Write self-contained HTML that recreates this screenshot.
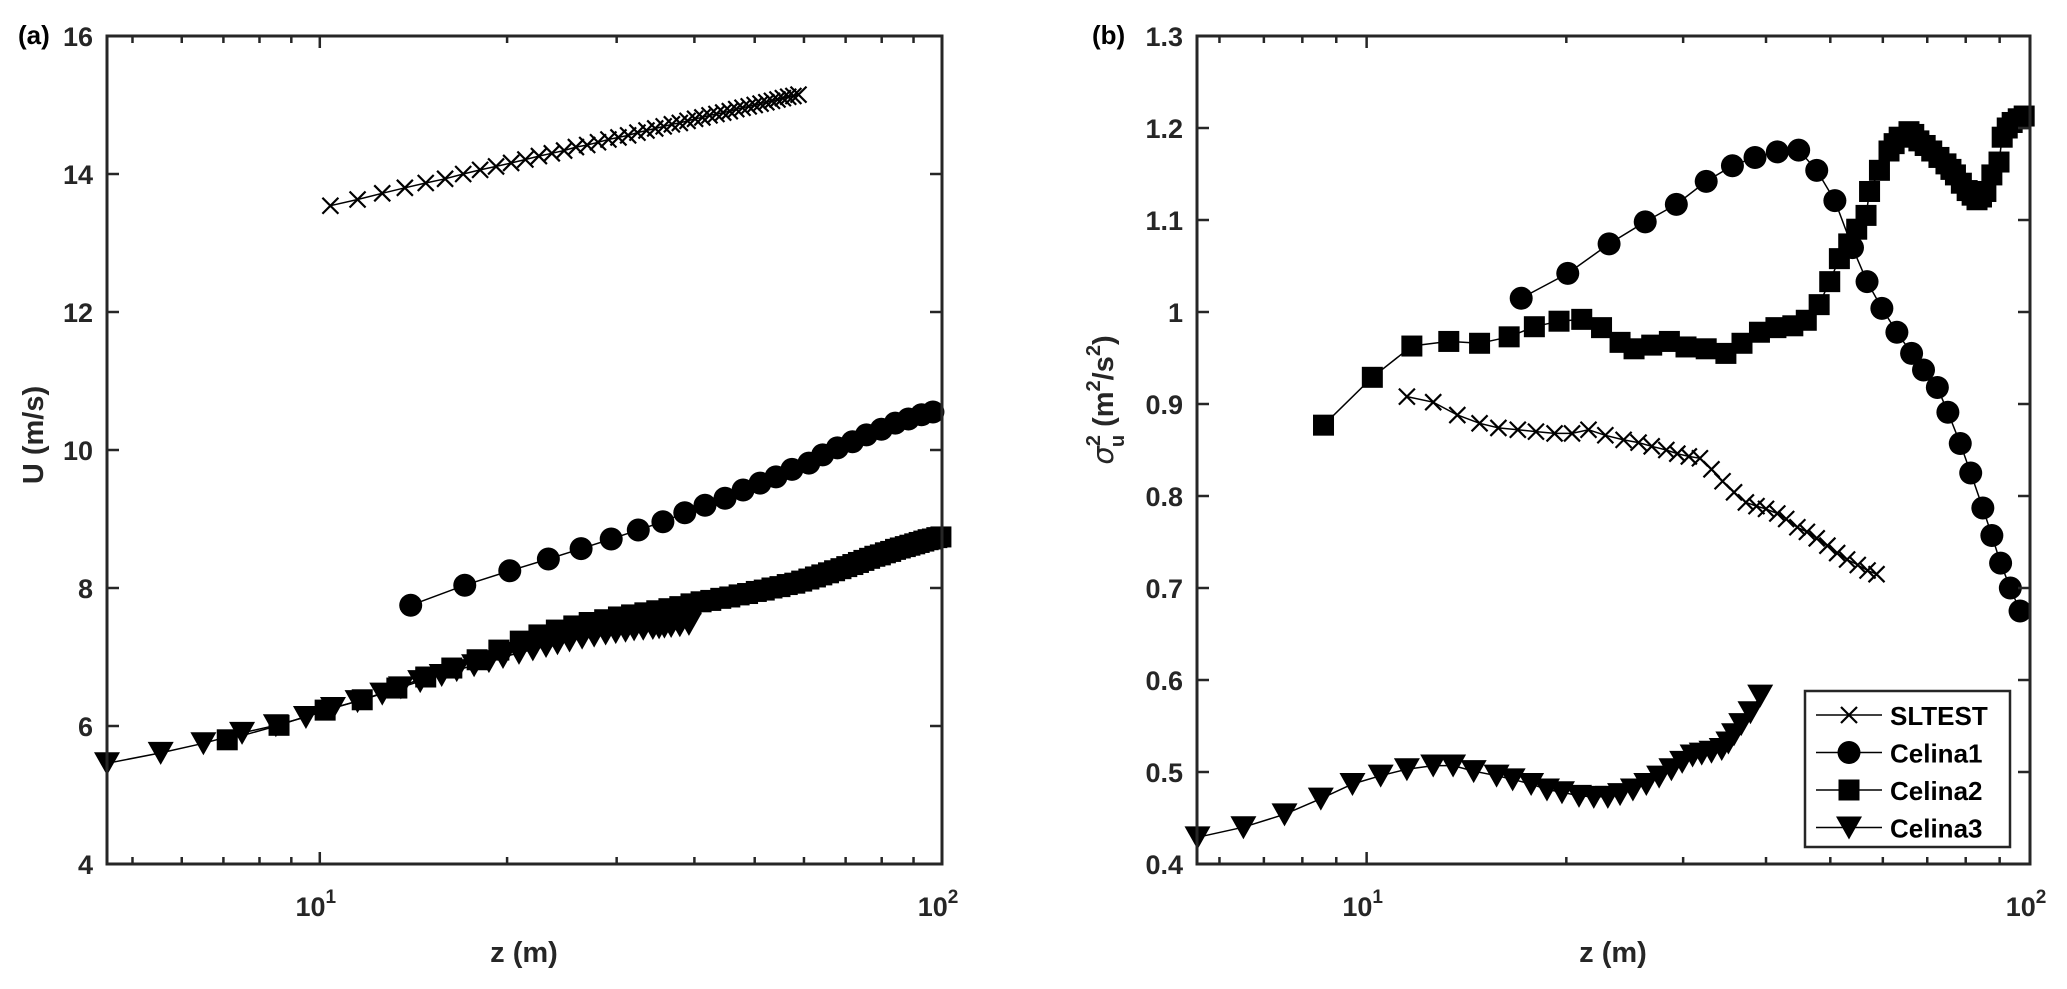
<!DOCTYPE html>
<html><head><meta charset="utf-8">
<style>
html,body{margin:0;padding:0;background:#fff;}
svg{display:block;font-family:"Liberation Sans",Arial,sans-serif;font-weight:bold;}
</style></head>
<body>
<svg id="fig" width="2067" height="989" viewBox="0 0 2067 989" xmlns="http://www.w3.org/2000/svg">
<rect width="2067" height="989" fill="#fff"/>
<g id="pa"></g>
<g id="pb"></g>
</svg>
<script>
// ---------- Panel (a) data ----------
const aSltZ = [10.4,11.5,12.6,13.7,14.8,15.9,17.0,18.1,19.2,20.3,21.4,22.5,23.6,24.7,25.8,26.9,28.0,29.1,30.2,31.3,32.4,33.5,34.6,35.7,36.8,37.9,39.0,40.1,41.2,42.3,43.4,44.5,45.6,46.7,47.8,48.9,50.0,51.1,52.2,53.3,54.4,55.5,56.6,57.7,58.8];
const aSltU = [13.54,13.63,13.72,13.80,13.87,13.93,14.00,14.06,14.11,14.16,14.21,14.26,14.30,14.34,14.39,14.42,14.46,14.50,14.53,14.56,14.60,14.63,14.66,14.69,14.72,14.74,14.77,14.80,14.82,14.85,14.87,14.89,14.91,14.94,14.96,14.98,15.00,15.02,15.04,15.06,15.08,15.10,15.12,15.13,15.15];
const aC1Z = [14.0,17.1,20.2,23.3,26.3,29.4,32.5,35.6,38.6,41.6,44.8,47.9,51.0,54.1,57.4,61.1,64.3,67.9,71.8,75.6,79.9,84.1,88.3,92.7,96.7];
const aC1U = [7.75,8.04,8.25,8.42,8.57,8.71,8.84,8.96,9.09,9.20,9.30,9.42,9.52,9.61,9.72,9.81,9.93,10.03,10.12,10.22,10.30,10.39,10.45,10.51,10.55];
const aC2Z = [7.1,8.6,10.2,11.7,13.3,14.8,16.3,17.9,19.4,21.0,22.5,24.0,25.6,27.1,28.7,30.2,31.7,33.3,34.8,36.4,37.9,39.5,41.0,42.5,44.1,45.6,47.2,48.7,50.3,51.8,53.3,54.9,56.4,58.0,59.5,61.1,62.6,64.1,65.7,67.2,68.8,70.3,71.9,73.4,74.9,76.5,78.0,79.6,81.1,82.7,84.2,85.7,87.3,88.8,90.4,91.9,93.5,95.0,96.5,98.1,99.6];
const aC2U = [5.80,6.01,6.23,6.38,6.55,6.71,6.84,6.96,7.10,7.23,7.32,7.39,7.45,7.50,7.54,7.58,7.61,7.64,7.67,7.70,7.73,7.77,7.80,7.82,7.85,7.87,7.90,7.92,7.95,7.97,8.00,8.02,8.05,8.07,8.10,8.13,8.16,8.19,8.22,8.25,8.28,8.31,8.34,8.37,8.40,8.43,8.46,8.48,8.51,8.53,8.56,8.58,8.60,8.62,8.64,8.66,8.68,8.70,8.71,8.73,8.74];
const aC3Z = [4.55,5.55,6.5,7.5,8.5,9.5,10.5,11.5,12.6,13.5,14.5,15.7,16.6,17.7,18.7,19.7,20.9,22.0,23.1,24.1,25.2,26.4,27.6,28.8,29.9,31.0,32.0,33.1,34.3,35.1,35.8,36.7,37.9,39.2];
const aC3U = [5.46,5.61,5.75,5.90,6.01,6.13,6.26,6.36,6.47,6.56,6.65,6.74,6.81,6.88,6.94,7.00,7.06,7.11,7.16,7.20,7.24,7.28,7.31,7.34,7.36,7.38,7.40,7.41,7.42,7.43,7.44,7.45,7.46,7.48];
const aYTicks = [4,6,8,10,12,14,16];
// ---------- Panel (b) data ----------
const bSltZ = [11.5,12.6,13.7,14.8,15.8,16.9,18.0,19.2,20.4,21.6,22.9,24.4,25.7,26.9,28.3,29.4,30.6,31.8,33.1,34.4,35.8,37.3,38.7,40.0,41.6,42.9,44.6,46.1,47.7,49.5,51.2,53.0,55.0,56.9,58.7];
const bSltV = [0.908,0.902,0.888,0.879,0.874,0.872,0.870,0.868,0.868,0.872,0.866,0.861,0.858,0.854,0.850,0.846,0.843,0.841,0.829,0.816,0.804,0.793,0.789,0.786,0.781,0.775,0.766,0.761,0.754,0.746,0.738,0.731,0.725,0.719,0.715];
const bC1Z = [17.1,20.1,23.2,26.3,29.3,32.5,35.6,38.5,41.6,44.8,47.7,50.8,54.0,56.8,59.8,63.0,66.3,69.1,72.5,75.2,78.5,81.4,84.9,87.6,90.3,93.4,96.6];
const bC1V = [1.015,1.042,1.074,1.098,1.117,1.142,1.159,1.168,1.174,1.176,1.154,1.121,1.070,1.033,1.004,0.978,0.955,0.937,0.918,0.891,0.857,0.825,0.787,0.757,0.727,0.700,0.675];
const bC2Z = [8.61,10.2,11.7,13.3,14.8,16.4,17.9,19.5,21.1,22.6,24.1,25.3,26.9,28.6,30.3,32.5,34.8,36.8,39.1,41.4,43.9,46.0,48.1,49.9,51.6,53.3,54.8,56.6,57.3,59.3,61.3,62.4,63.5,65.7,66.8,68.0,69.5,71.1,72.9,74.7,76.0,77.2,78.8,80.4,81.8,83.2,84.5,85.8,87.6,89.8,90.8,92.4,94.0,96.0,98.0];
const bC2V = [0.877,0.929,0.963,0.968,0.966,0.973,0.984,0.990,0.992,0.983,0.967,0.960,0.964,0.968,0.962,0.960,0.955,0.966,0.978,0.983,0.985,0.991,1.008,1.033,1.058,1.074,1.090,1.105,1.131,1.154,1.175,1.183,1.190,1.196,1.193,1.186,1.181,1.175,1.168,1.161,1.155,1.149,1.140,1.132,1.127,1.122,1.125,1.131,1.149,1.163,1.190,1.200,1.206,1.210,1.213];
const bC3Z = [5.56,6.52,7.52,8.53,9.52,10.5,11.5,12.6,13.5,14.5,15.7,16.6,17.7,18.7,19.7,20.9,22.0,23.1,24.1,25.2,26.4,27.6,28.8,29.9,31.0,32.0,33.1,34.3,35.1,35.8,36.7,37.9,39.2];
const bC3V = [0.429,0.440,0.454,0.471,0.487,0.496,0.503,0.507,0.507,0.501,0.496,0.492,0.487,0.481,0.478,0.474,0.473,0.473,0.476,0.481,0.487,0.495,0.503,0.511,0.518,0.520,0.522,0.525,0.532,0.541,0.552,0.565,0.583];
const bYTicks = [0.4,0.5,0.6,0.7,0.8,0.9,1.0,1.1,1.2,1.3];
const bYTickLabels = ["0.4","0.5","0.6","0.7","0.8","0.9","1","1.1","1.2","1.3"];
const legendLabels = ["SLTEST","Celina1","Celina2","Celina3"];

const NS = "http://www.w3.org/2000/svg";
function mk(parent, tag, attrs, text){
  const e = document.createElementNS(NS, tag);
  for (const k in attrs) e.setAttribute(k, attrs[k]);
  if (text !== undefined) e.textContent = text;
  parent.appendChild(e);
  return e;
}
const AX = "#262626";

function makeAxes(g, L, R, T, B, xmin, xmax, ymin, ymax){
  const sx = z => L + (Math.log10(z) - Math.log10(xmin)) / (Math.log10(xmax) - Math.log10(xmin)) * (R - L);
  const sy = v => B - (v - ymin) / (ymax - ymin) * (B - T);
  return {sx, sy};
}

function drawFrame(g, A, L, R, T, B, xmin, xmax, yticks, ylabels){
  // minor/major x ticks
  for (let d = 1; d <= 100; d *= 10){
    for (let m = 1; m <= 9; m++){
      const z = m * d;
      if (z < xmin - 1e-9 || z > xmax + 1e-9) continue;
      const x = A.sx(z);
      const len = (m === 1) ? 12 : 7;
      const t1 = mk(g, "line", {x1:x, y1:B, x2:x, y2:B-len, stroke:AX, "stroke-width":2.5});
      
      
      const t2 = mk(g, "line", {x1:x, y1:T, x2:x, y2:T+len, stroke:AX, "stroke-width":2.5});
      
      
      if (m === 1){
        const lab = mk(g, "text", {x:x-4, y:B+52, "text-anchor":"middle", "font-size":27, fill:AX});
        
        
        mk(lab, "tspan", {}, "10");
        mk(lab, "tspan", {dy:-13, "font-size":19}, String(Math.round(Math.log10(z))));
      }
    }
  }
  yticks.forEach((v, i) => {
    const y = A.sy(v);
    const t1 = mk(g, "line", {x1:L, y1:y, x2:L+12, y2:y, stroke:AX, "stroke-width":2.5});
    
    
    const t2 = mk(g, "line", {x1:R, y1:y, x2:R-12, y2:y, stroke:AX, "stroke-width":2.5});
    
    
    const lab = mk(g, "text", {x:L-14, y:y+10, "text-anchor":"end", "font-size":27, fill:AX}, ylabels[i]);
    
    
  });
  const box = mk(g, "rect", {x:L, y:T, width:R-L, height:B-T, fill:"none", stroke:AX, "stroke-width":3});
  
  
}

function marker(g, type, x, y){
  let e;
  if (type === "x"){
    e = mk(g, "path", {d:`M${x-8},${y-8}L${x+8},${y+8}M${x-8},${y+8}L${x+8},${y-8}`, stroke:"#000", "stroke-width":2.2, fill:"none"});
  } else if (type === "o"){
    e = mk(g, "circle", {cx:x, cy:y, r:11.5, fill:"#000"});
  } else if (type === "s"){
    e = mk(g, "rect", {x:x-10.5, y:y-10.5, width:21, height:21, fill:"#000"});
  } else {
    e = mk(g, "path", {d:`M${x-13},${y-11}L${x+13},${y-11}L${x},${y+12}Z`, fill:"#000"});
  }
  return e;
}

function series(g, A, zs, vs, type, name){
  const sg = mk(g, "g", {});
  
  
  const pts = zs.map((z, i) => A.sx(z).toFixed(1) + "," + A.sy(vs[i]).toFixed(1)).join(" ");
  const pl = mk(sg, "polyline", {points:pts, fill:"none", stroke:"#000", "stroke-width":1.5});
  
  
  zs.forEach((z, i) => {
    const m = marker(sg, type, A.sx(z), A.sy(vs[i]));
    
    
  });
}

// ---- Panel (a)
const ga = document.getElementById("pa");
const aL = 107, aR = 942, aT = 36, aB = 864;
const A = makeAxes(ga, aL, aR, aT, aB, 4.55, 100, 4, 16);
series(ga, A, aSltZ, aSltU, "x", "a-sltest-series");
series(ga, A, aC1Z, aC1U, "o", "a-celina1-series");
series(ga, A, aC2Z, aC2U, "s", "a-celina2-series");
series(ga, A, aC3Z, aC3U, "v", "a-celina3-series");
drawFrame(ga, A, aL, aR, aT, aB, 4.55, 100, aYTicks, aYTicks.map(String));
let t = mk(ga, "text", {x:18, y:44, "font-size":26, fill:"#000"}, "(a)");


t = mk(ga, "text", {x:524, y:962, "text-anchor":"middle", "font-size":29, fill:AX}, "z (m)");


t = mk(ga, "text", {x:0, y:0, "text-anchor":"middle", "font-size":29, fill:AX, transform:"translate(43,435) rotate(-90)"}, "U (m/s)");



// ---- Panel (b)
const gb = document.getElementById("pb");
const bL = 1197, bR = 2030, bT = 36, bB = 864;
const B = makeAxes(gb, bL, bR, bT, bB, 5.55, 100, 0.4, 1.3);
series(gb, B, bSltZ, bSltV, "x", "b-sltest-series");
series(gb, B, bC1Z, bC1V, "o", "b-celina1-series");
series(gb, B, bC2Z, bC2V, "s", "b-celina2-series");
series(gb, B, bC3Z, bC3V, "v", "b-celina3-series");
drawFrame(gb, B, bL, bR, bT, bB, 5.55, 100, bYTicks, bYTickLabels);
t = mk(gb, "text", {x:1092, y:44, "font-size":26, fill:"#000"}, "(b)");


t = mk(gb, "text", {x:1613, y:962, "text-anchor":"middle", "font-size":29, fill:AX}, "z (m)");


const yl = mk(gb, "text", {x:0, y:0, "text-anchor":"middle", "font-size":29, fill:AX, transform:"translate(1113,400) rotate(-90)"});


mk(yl, "tspan", {"font-family":"DejaVu Sans, sans-serif", "font-weight":"normal", "font-style":"italic"}, "σ");
mk(yl, "tspan", {dy:-13, "font-size":20}, "2");
mk(yl, "tspan", {dx:-12, dy:24, "font-size":20}, "u");
mk(yl, "tspan", {dx:8, dy:-11}, "(m");
mk(yl, "tspan", {dy:-13, "font-size":20}, "2");
mk(yl, "tspan", {dy:13}, "/s");
mk(yl, "tspan", {dy:-13, "font-size":20}, "2");
mk(yl, "tspan", {dy:13}, ")");

// ---- Legend
const lg = mk(gb, "g", {});


const lbox = mk(lg, "rect", {x:1805, y:691, width:205, height:156, fill:"#fff", stroke:AX, "stroke-width":2.5});


const types = ["x","o","s","v"];
legendLabels.forEach((lab, i) => {
  const y = 715 + i * 37.5;
  const eg = mk(lg, "g", {});
  
  
  mk(eg, "line", {x1:1816, y1:y, x2:1882, y2:y, stroke:"#000", "stroke-width":1.5});
  marker(eg, types[i], 1849, y);
  const tx = mk(eg, "text", {x:1890, y:y+10, "font-size":26, fill:"#000"}, lab);
  
  
});
</script>
</body></html>
